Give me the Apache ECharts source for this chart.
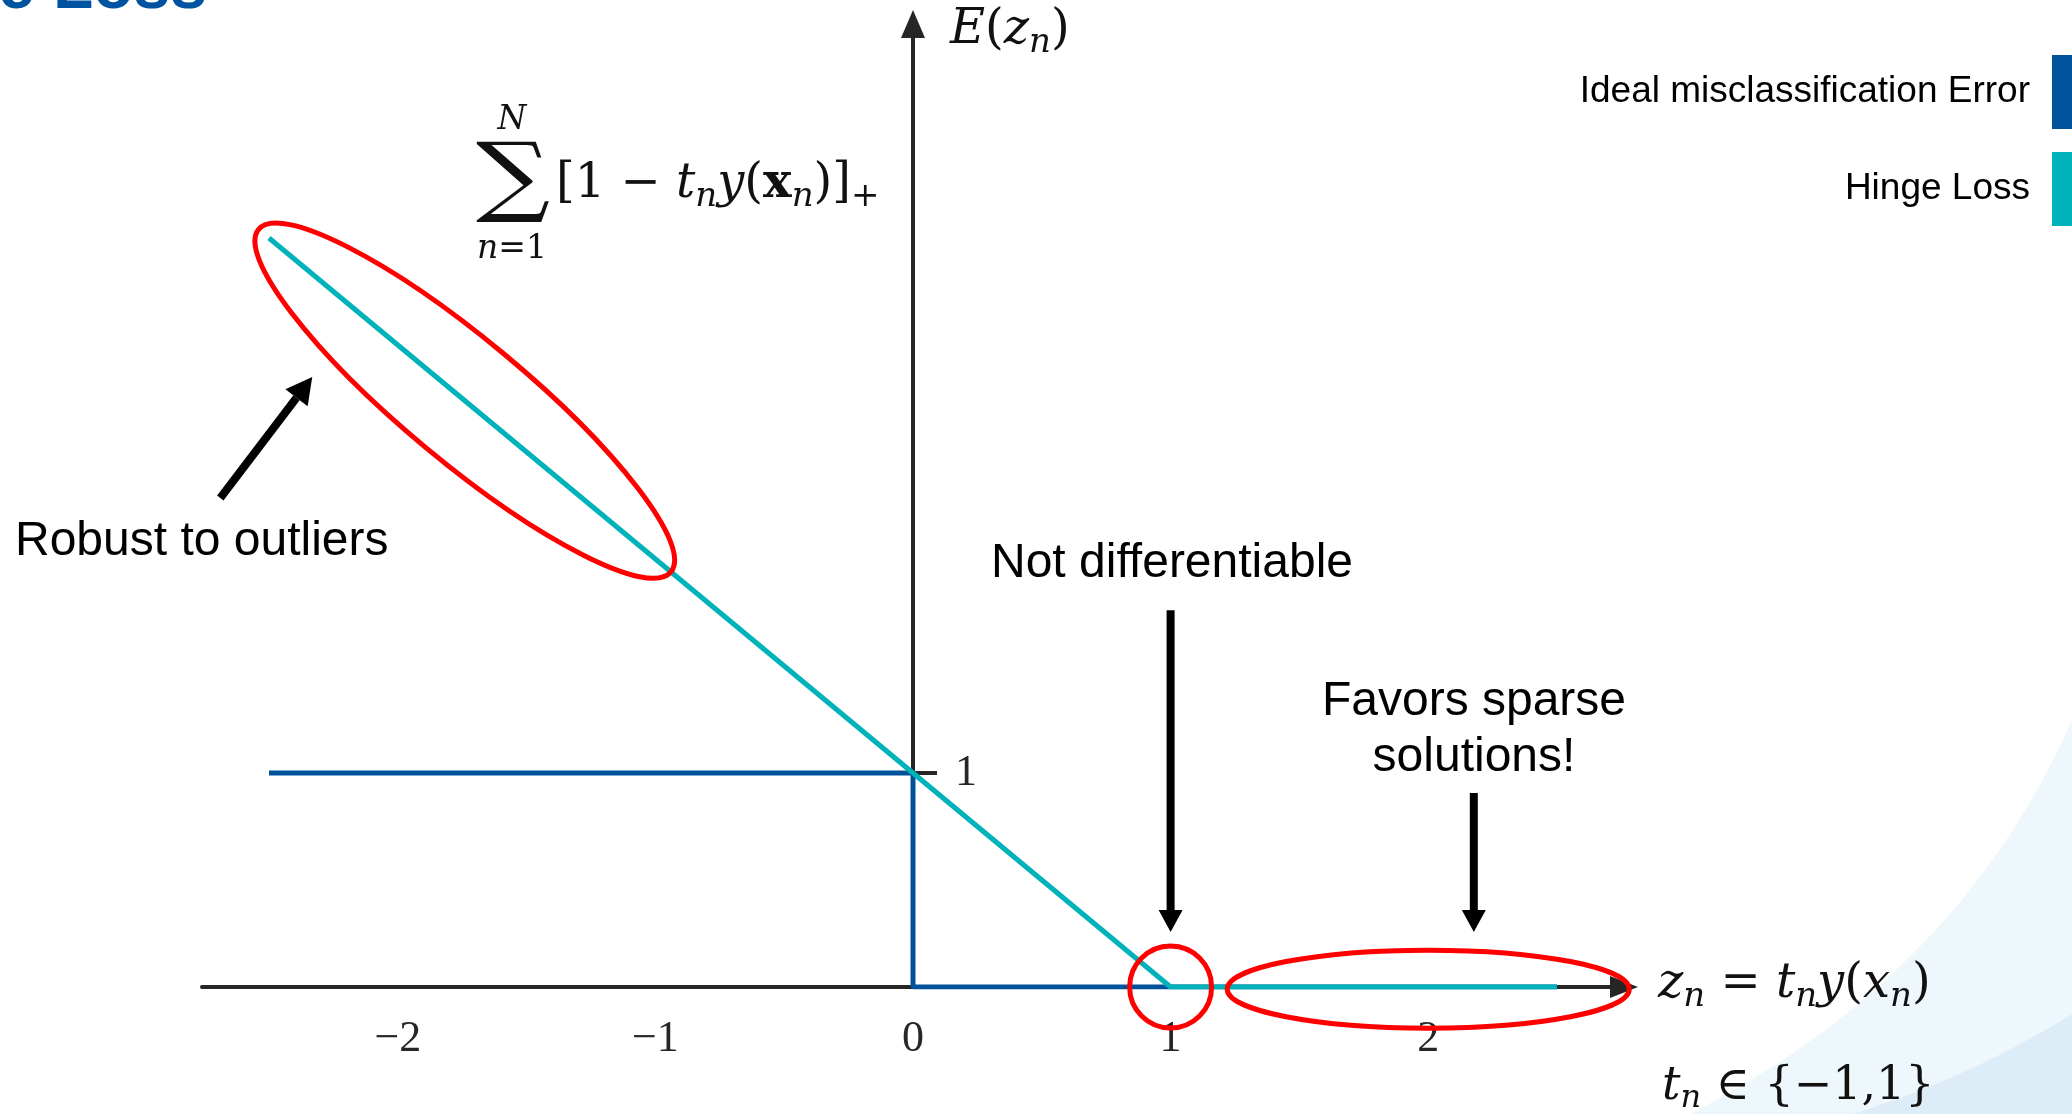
<!DOCTYPE html>
<html>
<head>
<meta charset="utf-8">
<title>Hinge Loss</title>
<script src="https://cdn.jsdelivr.net/npm/echarts@6/dist/echarts.min.js"></script>
<style>
  html, body { margin: 0; padding: 0; background: #fff; }
  #main { width: 2072px; height: 1114px; }
</style>
</head>
<body>
<div id="main"></div>
<script>
// chart values
var idealZ = [-2.5, 0, 0, 2.5];
var idealE = [1, 1, 0, 0];
var hingeZ = [-2.5, 1, 2.5];
var hingeE = [3.5, 0, 0];
var xTicks = [-2, -1, 0, 1, 2];
var yTicks = [1];

var SERIF = '"Liberation Serif", "DejaVu Serif", serif';
var MATH = '"DejaVu Serif", serif';
var SANS = '"Liberation Sans", Arial, sans-serif';
var BLUE = '#00529b', TEAL = '#00b2b9', RED = '#ff0000', AXIS = '#262626';

function pairs(xs, ys) {
  return xs.map(function (x, i) { return [x, ys[i]]; });
}

var chart = echarts.init(document.getElementById('main'));

chart.setOption({
  animation: false,
  backgroundColor: '#fff',
  grid: { left: 202, right: 448, top: 24, bottom: 127 },
  xAxis: {
    type: 'value', min: -2.76, max: 2.76,
    axisLine: { symbol: ['none', 'triangle'], symbolSize: [22, 28], lineStyle: { color: AXIS, width: 4 } },
    axisTick: { show: false },
    splitLine: { show: false },
    axisLabel: {
      customValues: xTicks, margin: 30, color: AXIS, fontFamily: SERIF, fontSize: 44,
      formatter: function (v) { return v < 0 ? '\u2212' + (-v) : String(v); }
    }
  },
  yAxis: {
    type: 'value', min: 0, max: 4.5,
    axisLine: { onZero: false, symbol: ['none', 'triangle'], symbolSize: [24, 28], lineStyle: { color: AXIS, width: 4 } },
    axisTick: { show: true, inside: true, length: 24, customValues: yTicks, lineStyle: { color: AXIS, width: 4 } },
    splitLine: { show: false },
    axisLabel: { customValues: yTicks, inside: true, margin: 42, color: AXIS, fontFamily: SERIF, fontSize: 44 }
  },
  legend: {
    orient: 'vertical', align: 'right', right: -20, top: 55, padding: 0,
    itemWidth: 40, itemHeight: 74, itemGap: 23, icon: 'rect', selectedMode: false,
    textStyle: { fontFamily: SANS, fontSize: 37, color: '#000', padding: [18, 17, 0, 0] }
  },
  series: [
    {
      name: 'Ideal misclassification Error', type: 'line', data: pairs(idealZ, idealE),
      showSymbol: false, lineStyle: { color: BLUE, width: 5 }, itemStyle: { color: BLUE }, z: 3
    },
    {
      name: 'Hinge Loss', type: 'line', data: pairs(hingeZ, hingeE),
      showSymbol: false, lineStyle: { color: TEAL, width: 5 }, itemStyle: { color: TEAL }, z: 4
    }
  ]
});

function px(x, y) { return chart.convertToPixel({ gridIndex: 0 }, [x, y]); }

// put the y axis (with its inside label) at z = 0
chart.setOption({ yAxis: { offset: -(px(0, 0)[0] - px(-2.76, 0)[0]) } });

// arrow: shaft + triangular head, in pixels
function arrow(from, to, head, half) {
  var dx = to[0] - from[0], dy = to[1] - from[1];
  var len = Math.sqrt(dx * dx + dy * dy);
  var ux = dx / len, uy = dy / len;
  var bx = to[0] - ux * head, by = to[1] - uy * head;
  return [
    { type: 'line', z: 50, shape: { x1: from[0], y1: from[1], x2: bx, y2: by }, style: { stroke: '#000', lineWidth: 8 } },
    { type: 'polygon', z: 50, shape: { points: [to, [bx - uy * half, by + ux * half], [bx + uy * half, by - ux * half]] }, style: { fill: '#000' } }
  ];
}

function ring(c, rx, ry, rot) {
  return {
    type: 'ellipse', z: 60, x: c[0], y: c[1], rotation: rot || 0,
    shape: { cx: 0, cy: 0, rx: rx, ry: ry },
    style: { fill: 'none', stroke: RED, lineWidth: 5 }
  };
}

function quad(p0, c, p2, n) {
  var pts = [];
  for (var i = 0; i <= n; i++) {
    var t = i / n, a = (1 - t) * (1 - t), b = 2 * (1 - t) * t, d = t * t;
    pts.push([a * p0[0] + b * c[0] + d * p2[0], a * p0[1] + b * c[1] + d * p2[1]]);
  }
  return pts;
}

function mathRich(size) {
  var s = Math.round(size * 0.7), pad = Math.round(size * 0.5);
  return {
    it: { fontFamily: MATH, fontStyle: 'italic', fontSize: size, lineHeight: size + 10, fill: '#111' },
    rm: { fontFamily: MATH, fontSize: size, lineHeight: size + 10, fill: '#111' },
    bx: { fontFamily: MATH, fontWeight: 'bold', fontSize: size, lineHeight: size + 10, fill: '#111' },
    sub: { fontFamily: MATH, fontStyle: 'italic', fontSize: s, lineHeight: s, padding: [pad, 0, 0, 0], fill: '#111' },
    subrm: { fontFamily: MATH, fontSize: s, lineHeight: s, padding: [pad, 0, 0, 0], fill: '#111' }
  };
}

function mathText(x, y, txt, size, align) {
  return {
    type: 'text', z: 40, x: x, y: y,
    style: {
      text: txt, rich: mathRich(size), align: align || 'left', verticalAlign: 'middle',
      font: size + 'px ' + MATH, fill: '#111'
    }
  };
}

function sansText(x, y, txt, align) {
  return {
    type: 'text', z: 40, x: x, y: y,
    style: { text: txt, font: '48px ' + SANS, fill: '#000', align: align || 'center', verticalAlign: 'middle', lineHeight: 56 }
  };
}

// annotation anchors (data coordinates)
var hingeA = px(hingeZ[0], hingeE[0]), hingeB = px(hingeZ[1], hingeE[1]);
var hingeAngle = Math.atan2(hingeB[1] - hingeA[1], hingeB[0] - hingeA[0]);
var robustCenter = px(-1.74, 2.74);
var kink = px(1, 0);
var sparseCenter = px(2.0, -0.01);
var yTop = px(0, 4.5);
var xEnd = px(2.76, 0);

var graphics = [];

// slide decoration at the bottom-right
var light = quad([2072, 720], [1960, 975], [1690, 1114], 40);
light.push([2072, 1114]);
var dark = quad([2072, 1014], [1965, 1080], [1852, 1114], 30);
dark.push([2072, 1114]);
graphics.push({ type: 'polygon', z: -10, silent: true, shape: { points: light }, style: { fill: '#eef8fc' } });
graphics.push({ type: 'polygon', z: -9, silent: true, shape: { points: dark }, style: { fill: '#ddedf8' } });

// clipped slide title
graphics.push({
  type: 'text', z: 40, x: 207, y: -10,
  style: { text: 'Hinge Loss', font: 'bold 66px ' + SANS, fill: '#0053a0', align: 'right', verticalAlign: 'middle' }
});

// axis names
graphics.push(mathText(yTop[0] + 37, 31, '{it|E}{rm|(}{it|z}{sub|n}{rm|)}', 48));
graphics.push(mathText(xEnd[0] + 34, xEnd[1] - 2, '{it|z}{sub|n}{rm| = }{it|t}{sub|n}{it|y}{rm|(}{it|x}{sub|n}{rm|)}', 48));
graphics.push(mathText(xEnd[0] + 38, xEnd[1] + 100, '{it|t}{sub|n}{rm| \u2208 }{\u22121,1}', 46));

// summation formula
graphics.push(mathText(512, 120, '{it|N}', 33, 'center'));
graphics.push({
  type: 'text', z: 40, x: 513, y: 182, scaleX: 1.18,
  style: { text: '\u2211', font: '88px "DejaVu Serif", serif', fill: '#111', align: 'center', verticalAlign: 'middle' }
});
graphics.push(mathText(512, 249, '{it|n}{rm|=1}', 33, 'center'));
graphics.push(mathText(556, 185, '{rm|[1 \u2212 }{it|t}{sub|n}{it|y}{rm|(}{bx|x}{sub|n}{rm|)]}{subrm|+}', 48));

// annotations
graphics.push(ring(robustCenter, 268, 61, -hingeAngle));
graphics.push(ring(kink, 41, 41));
graphics.push(ring(sparseCenter, 201, 39));

graphics = graphics.concat(arrow(px(-2.689, 2.285), px(-2.332, 2.85), 26, 14));
graphics = graphics.concat(arrow(px(1, 1.76), px(1, 0.257), 22, 12));
graphics = graphics.concat(arrow(px(2.177, 0.907), px(2.177, 0.257), 22, 12));

graphics.push(sansText(15, 542, 'Robust to outliers', 'left'));
graphics.push(sansText(1172, 564, 'Not differentiable'));
graphics.push(sansText(1474, 730, 'Favors sparse\nsolutions!'));

chart.setOption({ graphic: { elements: graphics } });
</script>
</body>
</html>
